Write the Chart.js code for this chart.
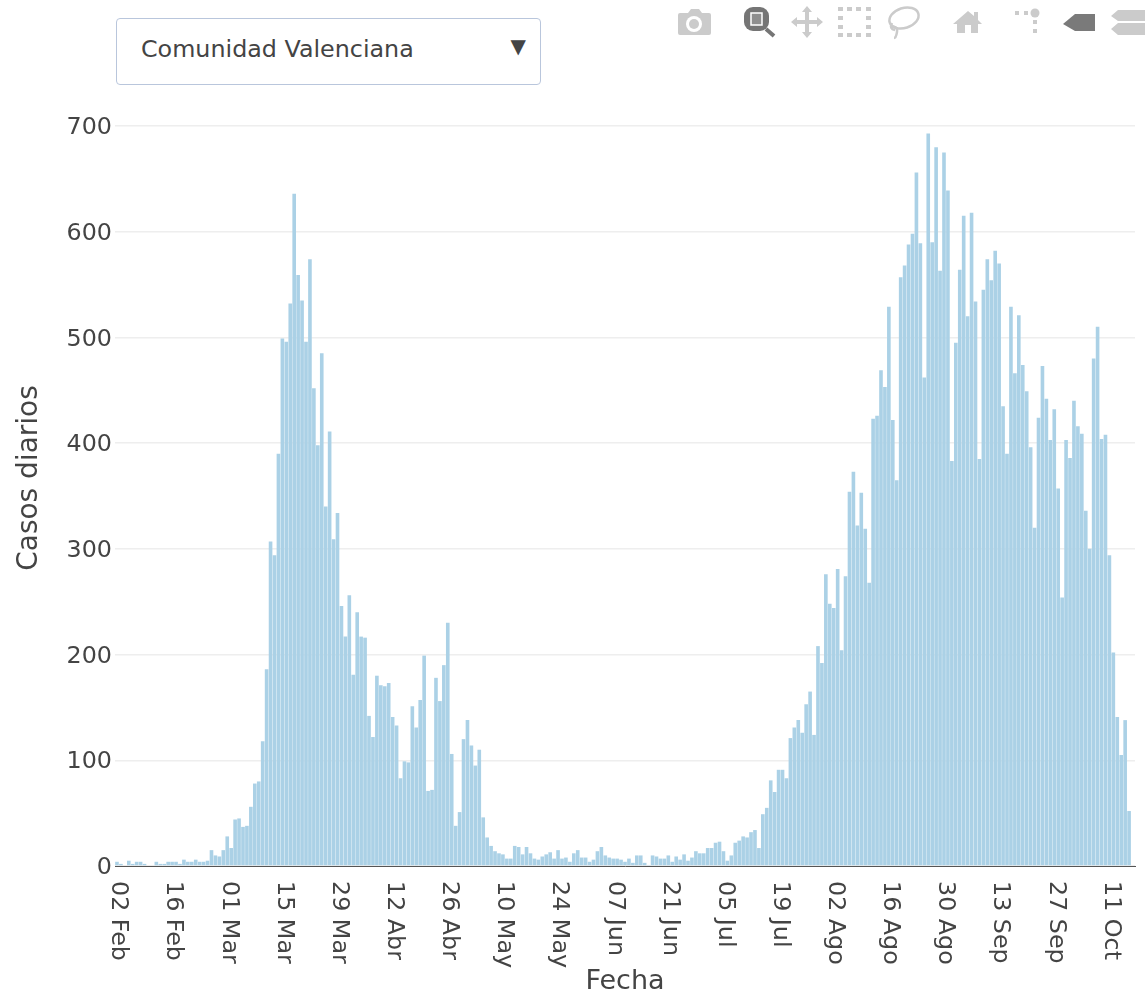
<!DOCTYPE html>
<html lang="es">
<head>
    <meta charset="UTF-8">
    <title>Casos diarios</title>
    <script src="https://cdn.jsdelivr.net/npm/chart.js"></script>
    <style>
        html, body { margin: 0; background: #fff; overflow: hidden; }
        #wrap { position: relative; width: 1145px; height: 995px; font-family: "DejaVu Sans", sans-serif; }
        #grafico { position: absolute; left: 0; top: 0; }
        #selector {
            position: absolute; left: 116px; top: 18px; width: 423px; height: 65px;
            border: 1.5px solid #b9c6dc; border-radius: 4px; background: #fff; color: #444;
        }
        #selector .valor { position: absolute; left: 24px; top: 15px; font-size: 23.8px; line-height: 30px; }
        #selector .flecha { position: absolute; right: 14px; top: 12px; font-size: 20px; line-height: 30px; }
        #iconos { position: absolute; left: 0; top: 0; }
    </style>
</head>
<body>
<div id="wrap">
    <canvas id="grafico" width="1145" height="995"></canvas>
    <div id="selector"><span class="valor">Comunidad Valenciana</span><span class="flecha">▼</span></div>
    <svg id="iconos" width="1145" height="45" viewBox="0 0 1145 45">
        <g fill="#cbcbcb">
            <path d="M680 13h8l3-4h8l3 4h7q2 0 2 2v18q0 2-2 2h-29q-2 0-2-2v-18q0-2 2-2z"/>
            <circle cx="694" cy="24" r="8" fill="#fff"/><circle cx="694" cy="24" r="5"/>
            <path d="M807 6l5 6h-3v8h8v-3l6 5-6 5v-3h-8v8h3l-5 6-5-6h3v-8h-8v3l-6-5 6-5v3h8v-8h-3z"/>
            <path d="M838 7h5v4h-5zM847 7h5v4h-5zM856 7h5v4h-5zM866 7h5v4h-5zM838 16h5v4h-5zM866 16h5v4h-5zM838 25h5v4h-5zM866 25h5v4h-5zM838 33h5v4h-5zM847 33h5v4h-5zM856 33h5v4h-5zM866 33h5v4h-5z"/>
            <path d="M953 24l15-13 6 5v-4h4v8l4 4h-4v9h-7v-8h-6v8h-8v-9z"/>
            <path d="M1015 11h4v4h-4zM1024 11h4v4h-4zM1033 20h4v4h-4zM1033 29h4v4h-4z"/>
            <circle cx="1035" cy="13" r="4.5"/>
            <path d="M1111 16l7-6h27v11h-27zM1111 29l7-6h27v12h-27z"/>
        </g>
        <g fill="none" stroke="#cbcbcb" stroke-width="2.5">
            <ellipse cx="904" cy="18" rx="15" ry="10" transform="rotate(-18 904 18)"/>
            <path d="M890 26q8 0 7 6t-3 6M892 23q-3 6 3 7"/>
        </g>
        <g>
            <rect x="744" y="7" width="25" height="24" rx="9" fill="#757575"/>
            <rect x="751" y="13" width="11" height="12" fill="#8e8e8e" stroke="#fff" stroke-width="1.5"/>
            <path d="M766 29l8 7" stroke="#757575" stroke-width="4" fill="none"/>
            <path d="M1063 24l12-10h20v17h-20z" fill="#7a7a7a"/>
        </g>
    </svg>
</div>
<script>
    // casos diarios, desde el 02 Feb
    const casos = [
        4, 2, 0, 5, 2, 4, 4, 2, 0, 0, 4, 2, 2, 4, 4, 4, 2, 6, 4, 4, 6, 4, 4, 5, 15, 10, 9, 15, 28, 17,
        44, 45, 37, 38, 56, 78, 80, 118, 186, 307, 294, 390, 499, 496, 532, 636, 559, 535, 496, 574,
        452, 398, 485, 340, 411, 309, 334, 246, 217, 256, 181, 240, 217, 216, 142, 122, 180, 171, 170, 173,
        141, 133, 83, 99, 98, 151, 131, 157, 199, 71, 72, 178, 156, 190, 230, 106, 38, 51, 120, 138,
        114, 95, 110, 46, 27, 19, 14, 12, 11, 7, 7, 19, 18, 11, 18, 12, 7, 6, 9, 11,
        13, 7, 15, 7, 8, 4, 12, 15, 8, 8, 4, 6, 14, 18, 10, 8, 7, 7, 6, 4,
        7, 3, 10, 10, 3, 1, 10, 9, 7, 7, 10, 4, 9, 6, 11, 5, 8, 14, 12, 12,
        17, 17, 22, 23, 14, 5, 10, 22, 24, 28, 27, 32, 34, 17, 49, 55, 81, 70, 91, 91,
        83, 121, 131, 138, 126, 153, 165, 124, 208, 192, 276, 248, 244, 281, 204, 274, 354, 373, 322, 353,
        319, 268, 423, 426, 469, 453, 529, 422, 365, 557, 568, 588, 598, 656, 589, 462, 693, 590, 680, 563,
        675, 639, 383, 495, 564, 615, 520, 618, 534, 385, 545, 574, 554, 582, 570, 435, 390, 529, 466, 521,
        474, 449, 396, 320, 424, 473, 442, 403, 432, 357, 254, 403, 386, 440, 416, 409, 336, 300, 480, 510,
        404, 408, 294, 202, 141, 105, 138, 52
    ];
    const tickLabels = ['02 Feb', '16 Feb', '01 Mar', '15 Mar', '29 Mar', '12 Abr', '26 Abr', '10 May', '24 May', '07 Jun',
        '21 Jun', '05 Jul', '19 Jul', '02 Ago', '16 Ago', '30 Ago', '13 Sep', '27 Sep', '11 Oct'];
    const meses = ['Ene', 'Feb', 'Mar', 'Abr', 'May', 'Jun', 'Jul', 'Ago', 'Sep', 'Oct'];

    const fechas = casos.map((_, i) => {
        const d = new Date(2020, 1, 2 + i);
        return String(d.getDate()).padStart(2, '0') + ' ' + meses[d.getMonth()];
    });
    fechas.push(''); // hueco al final del eje

    // Chart.js no deja girar las etiquetas 90 grados hacia abajo, se pintan aqui
    // el titulo del eje y tampoco va centrado en el eje en el original
    const etiquetasFecha = {
        id: 'etiquetasFecha',
        afterDraw(chart) {
            const ctx = chart.ctx;
            const x = chart.scales.x;
            ctx.save();
            ctx.font = '23.8px "DejaVu Sans"';
            ctx.fillStyle = '#444';
            ctx.textAlign = 'left';
            ctx.textBaseline = 'middle';
            tickLabels.forEach(t => {
                ctx.save();
                ctx.translate(x.getPixelForValue(fechas.indexOf(t)) + 1.5, 881);
                ctx.rotate(Math.PI / 2);
                ctx.fillText(t, 0, 0);
                ctx.restore();
            });
            ctx.font = '28px "DejaVu Sans"';
            ctx.textAlign = 'center';
            ctx.translate(30, 478);
            ctx.rotate(-Math.PI / 2);
            ctx.fillText('Casos diarios', 0, 0);
            ctx.restore();
        }
    };

    new Chart(document.getElementById('grafico'), {
        type: 'bar',
        data: {
            labels: fechas,
            datasets: [{
                data: casos,
                backgroundColor: '#abd1e6',
                borderWidth: 0,
                barPercentage: 0.92,
                categoryPercentage: 1
            }]
        },
        plugins: [etiquetasFecha],
        options: {
            responsive: false,
            animation: false,
            layout: { autoPadding: false, padding: { top: 126, right: 10, left: 0, bottom: 0 } },
            plugins: { legend: { display: false }, tooltip: { enabled: false } },
            scales: {
                x: {
                    afterFit: s => { s.height = 129; },
                    grid: { display: false },
                    border: { color: '#555', width: 1 },
                    ticks: { display: false },
                    title: { display: true, text: 'Fecha', color: '#444', font: { family: 'DejaVu Sans', size: 27, lineHeight: 1 }, padding: { top: 0, bottom: 0 } }
                },
                y: {
                    min: 0,
                    max: 700,
                    afterFit: s => { s.width = 115; },
                    border: { display: false },
                    grid: { color: '#eeeeee', lineWidth: 1.5, drawTicks: false },
                    ticks: { stepSize: 100, color: '#444', padding: 3, labelOffset: 2, font: { family: 'DejaVu Sans', size: 23.8 } }
                }
            }
        }
    });
</script>
</body>
</html>
